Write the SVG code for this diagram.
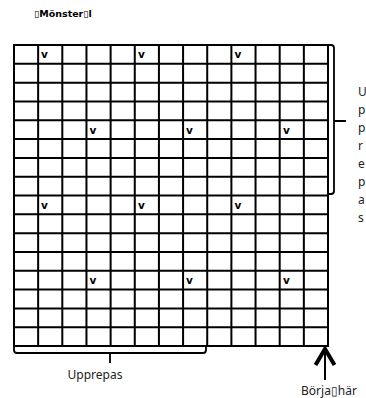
<svg xmlns="http://www.w3.org/2000/svg" width="366" height="398" viewBox="0 0 366 398">
<style>
.g{stroke:#000;stroke-width:2;fill:none}
.b{stroke:#000;stroke-width:1.8;fill:none}
.v{font-family:"DejaVu Sans",sans-serif;font-weight:bold;font-size:10.5px;fill:#000}
.t{font-family:"Noto Sans","Open Sans",sans-serif;font-size:12px;fill:#222}
.h{font-family:"DejaVu Sans",sans-serif;font-weight:bold;font-size:9.5px;fill:#000}
</style>
<rect width="366" height="398" fill="#fff"/>
<g id="title"><text class="h" x="34" y="17">▯Mönster▯l</text></g>
<g id="grid">
<path class="g" d="M14,45V346M38.15,45V346M62.31,45V346M86.46,45V346M110.62,45V346M134.77,45V346M158.92,45V346M183.08,45V346M207.23,45V346M231.38,45V346M255.54,45V346M279.69,45V346M303.85,45V346M328,45V346"/>
<path class="g" d="M13,45H329M13,63.81H329M13,82.63H329M13,101.44H329M13,120.25H329M13,139.06H329M13,157.88H329M13,176.69H329M13,195.5H329M13,214.31H329M13,233.13H329M13,251.94H329M13,270.75H329M13,289.56H329M13,308.38H329M13,327.19H329M13,346H329"/>
<g class="v">
<text x="41" y="58">v</text><text x="138" y="58">v</text><text x="234.5" y="58">v</text>
<text x="89.5" y="133.5">v</text><text x="186" y="133.5">v</text><text x="283" y="133.5">v</text>
<text x="41" y="208.5">v</text><text x="138" y="208.5">v</text><text x="234.5" y="208.5">v</text>
<text x="89.5" y="284">v</text><text x="186" y="284">v</text><text x="283" y="284">v</text>
</g>
</g>
<g id="connectors">
<path class="b" d="M328,45H331Q334,45 334,48V191Q334,194 331,194H328M334,121H346"/>
<path class="b" d="M14,346V350Q14,353 17,353H203Q206,353 206,350V346M110,353V363"/>
<path d="M325,349V380" stroke="#000" stroke-width="2" fill="none"/>
<path d="M315.5,365L325,349L334.5,365" stroke="#000" stroke-width="4" fill="none" stroke-linejoin="miter"/>
</g>
<g id="label-right">
<text class="t" x="358" y="96">U</text>
<text class="t" x="358" y="114">p</text>
<text class="t" x="358" y="132">p</text>
<text class="t" x="358" y="150">r</text>
<text class="t" x="358" y="168">e</text>
<text class="t" x="358" y="186">p</text>
<text class="t" x="358" y="204">a</text>
<text class="t" x="358" y="222">s</text>
</g>
<g id="label-bottom"><text class="t" x="95" y="379" text-anchor="middle">Upprepas</text></g>
<g id="label-start"><text class="t" x="329" y="395" text-anchor="middle">Börja▯här</text></g>
</svg>
